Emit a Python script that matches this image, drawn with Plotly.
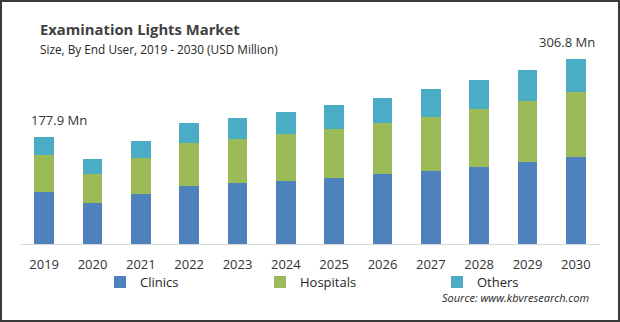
import plotly.graph_objects as go

years = ["2019", "2020", "2021", "2022", "2023", "2024", "2025", "2026", "2027", "2028", "2029", "2030"]
clinics = [87.0, 68.6, 83.0, 96.3, 101.3, 104.6, 109.6, 116.2, 121.2, 127.8, 136.1, 144.4]
hospitals = [61.0, 47.6, 59.8, 71.4, 73.0, 78.0, 81.3, 84.7, 89.1, 96.3, 101.3, 107.9]
others = [29.9, 24.9, 28.2, 33.2, 34.9, 36.5, 39.8, 41.5, 47.0, 48.1, 51.5, 54.5]
labels = {"2019": "177.9 Mn", "2030": "306.8 Mn"}

W, H = 620, 322
L, R, T, B = 20, 20, 45, 78
pw, ph = W - L - R, H - T - B

def px(x):
    return (x - L) / pw

def py(y):
    return (H - B - y) / ph

FONT = "Open Sans"
xs = list(range(len(years)))
fig = go.Figure()
series = [("Clinics", clinics, "#4F81BD", "legend"),
          ("Hospitals", hospitals, "#9BBB59", "legend2"),
          ("Others", others, "#4BACC6", "legend3")]
for name, vals, col, lg in series:
    fig.add_trace(go.Bar(x=xs, y=vals, name=name, marker_color=col,
                         marker_line_width=0, legend=lg, showlegend=True))

totals = [c + h + o for c, h, o in zip(clinics, hospitals, others)]
anns = []
for yr, txt in labels.items():
    i = years.index(yr)
    anns.append(dict(x=i, y=totals[i], xref="x", yref="y", text=txt, showarrow=False,
                     yanchor="bottom", yshift=6, xshift=15 if i == 0 else -9,
                     font=dict(size=13, color="#333333", family=FONT)))
anns.append(dict(x=px(38), y=py(29), xref="paper", yref="paper", xanchor="left", yanchor="middle",
                 text="<b>Examination Lights Market</b>", showarrow=False,
                 font=dict(size=14.8, color="#404040", family=FONT)))
anns.append(dict(x=px(38), y=py(49), xref="paper", yref="paper", xanchor="left", yanchor="middle",
                 text="Size, By End User, 2019 - 2030 (USD Million)", showarrow=False,
                 font=dict(size=11.8, color="#262626", family=FONT)))
anns.append(dict(x=px(591), y=py(297), xref="paper", yref="paper", xanchor="right", yanchor="middle",
                 text="<i>Source: www.kbvresearch.com</i>", showarrow=False,
                 font=dict(size=11, color="#262626", family=FONT)))

def leg(xpix):
    return dict(orientation="h", x=px(xpix), y=py(282), xanchor="left", yanchor="middle",
                font=dict(size=13, color="#262626", family=FONT), bgcolor="rgba(0,0,0,0)",
                visible=True)

fig.update_layout(
    width=W, height=H, margin=dict(l=L, r=R, t=T, b=B),
    barmode="stack", bargap=0.59, showlegend=True,
    paper_bgcolor="white", plot_bgcolor="white",
    font=dict(family=FONT),
    xaxis=dict(range=[-0.5, len(years) - 0.5], tickmode="array", tickvals=xs, ticktext=years,
               showline=True, linecolor="#d9d9d9", linewidth=1, zeroline=False,
               ticks="", ticklabelstandoff=8, showgrid=False,
               tickfont=dict(size=13, color="#333333", family=FONT)),
    yaxis=dict(range=[0, 330], showticklabels=False, showgrid=False, zeroline=False, visible=False),
    legend=leg(100), legend2=leg(260), legend3=leg(437),
    annotations=anns,
    shapes=[dict(type="rect", xref="paper", yref="paper", x0=px(1), x1=px(619), y0=py(321), y1=py(1),
                 line=dict(color="#3a3a3a", width=2), fillcolor="rgba(0,0,0,0)")],
)
fig.write_html("out.html")
